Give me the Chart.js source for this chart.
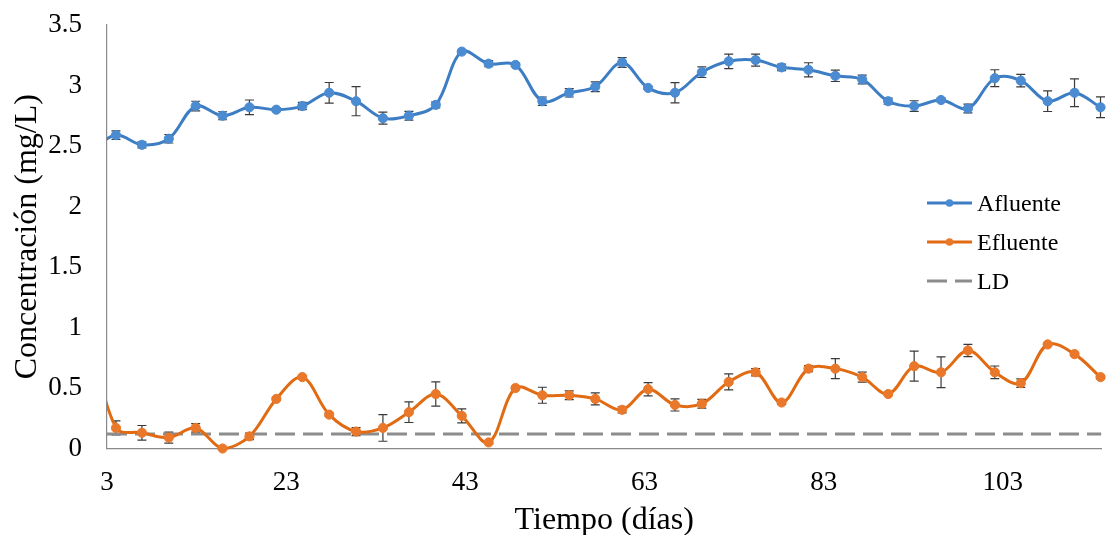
<!DOCTYPE html>
<html>
<head>
<meta charset="utf-8">
<script src="https://cdn.jsdelivr.net/npm/chart.js@4.4.1/dist/chart.umd.min.js"></script>
<style>
  html, body { margin: 0; padding: 0; background: #ffffff; }
  canvas { display: block; }
</style>
</head>
<body>
<canvas id="chart" width="1107" height="535"></canvas>
<script>
// Sampling days (first sample falls before the axis start and is clipped)
const days = [1.0, 4.0, 6.9, 9.9, 12.9, 15.9, 18.9, 21.9, 24.8, 27.8, 30.8, 33.8, 36.7, 39.7,
  42.6, 45.6, 48.6, 51.6, 54.6, 57.5, 60.5, 63.4, 66.4, 69.4, 72.4, 75.4, 78.3,
  81.3, 84.3, 87.3, 90.2, 93.1, 96.1, 99.1, 102.1, 105.0, 108.0, 111.0, 113.9];

// Influent concentration (mg/L) and its standard deviation
const afluente = [2.45, 2.59, 2.51, 2.56, 2.83, 2.75, 2.82, 2.80, 2.83, 2.94, 2.87, 2.73, 2.75, 2.84,
  3.28, 3.18, 3.17, 2.87, 2.94, 2.99, 3.19, 2.98, 2.94, 3.11, 3.20, 3.21, 3.15,
  3.13, 3.08, 3.05, 2.87, 2.83, 2.88, 2.81, 3.06, 3.04, 2.87, 2.94, 2.82];
const afluenteErr = [0, 0.035, 0.025, 0.035, 0.04, 0.033, 0.06, 0.015, 0.03, 0.085, 0.12, 0.05, 0.036, 0.025,
  0.01, 0.025, 0.01, 0.035, 0.035, 0.04, 0.04, 0.01, 0.083, 0.044, 0.06, 0.05, 0.027,
  0.058, 0.047, 0.036, 0.025, 0.044, 0.015, 0.036, 0.07, 0.052, 0.085, 0.114, 0.086];

// Effluent concentration (mg/L) and its standard deviation
const efluente = [1.0, 0.17, 0.13, 0.09, 0.17, 0.00, 0.10, 0.41, 0.59, 0.28, 0.14, 0.17, 0.30, 0.45,
  0.27, 0.05, 0.50, 0.44, 0.44, 0.41, 0.32, 0.49, 0.36, 0.37, 0.55, 0.63, 0.38,
  0.66, 0.66, 0.59, 0.45, 0.68, 0.63, 0.81, 0.63, 0.54, 0.86, 0.78, 0.59];
const efluenteErr = [0, 0.058, 0.06, 0.045, 0.035, 0.005, 0.027, 0.01, 0.01, 0.012, 0.033, 0.11, 0.085, 0.10,
  0.058, 0.01, 0.01, 0.066, 0.036, 0.05, 0.025, 0.055, 0.05, 0.036, 0.066, 0.03, 0.015,
  0.025, 0.083, 0.042, 0.01, 0.124, 0.127, 0.05, 0.052, 0.035, 0.01, 0.01, 0.01];

// Detection limit (mg/L)
const limiteDeteccion = 0.12;

// Axis ranges and tick labels
const xRange = [3, 114];
const xTicks = [3, 23, 43, 63, 83, 103];
const yTicks = [0, 0.5, 1, 1.5, 2, 2.5, 3, 3.5];

const serif = '"Liberation Serif", "Times New Roman", Times, serif';
const BLUE = '#3d7dc3';
const BLUE_PT = '#4a8bd1';
const ORANGE = '#e16b13';
const ORANGE_PT = '#ea782a';
const GREY = '#8c8c8c';

const toPoints = (ys) => days.map((d, i) => ({ x: d, y: ys[i] }));
const seriesClip = { left: 0, top: 12, right: 12, bottom: 12 };

// Vertical error bars with caps, drawn under the markers
const errorBars = {
  id: 'errorBars',
  beforeDatasetsDraw(chart) {
    const { ctx, scales: { x, y } } = chart;
    const sets = [[afluente, afluenteErr], [efluente, efluenteErr]];
    ctx.save();
    ctx.beginPath();
    ctx.rect(chart.chartArea.left, 0, chart.chartArea.right - chart.chartArea.left + 10, chart.height);
    ctx.clip();
    ctx.strokeStyle = '#3a3a3a';
    ctx.lineWidth = 1.2;
    const cap = 4.5;
    sets.forEach(([vals, errs]) => {
      vals.forEach((v, i) => {
        const e = errs[i];
        if (!e || days[i] < xRange[0]) return;
        const px = x.getPixelForValue(days[i]);
        const top = y.getPixelForValue(v + e);
        const bot = y.getPixelForValue(v - e);
        ctx.beginPath();
        ctx.moveTo(px, top); ctx.lineTo(px, bot);
        ctx.moveTo(px - cap, top); ctx.lineTo(px + cap, top);
        ctx.moveTo(px - cap, bot); ctx.lineTo(px + cap, bot);
        ctx.stroke();
      });
    });
    ctx.restore();
  }
};

// Legend placed inside the plot, to the right
const sideLegend = {
  id: 'sideLegend',
  afterDraw(chart, args, opts) {
    const { ctx } = chart;
    ctx.save();
    chart.data.datasets.forEach((ds, i) => {
      const cy = opts.y + i * opts.row;
      ctx.beginPath();
      ctx.strokeStyle = ds.borderColor;
      ctx.lineWidth = ds.borderWidth;
      ctx.setLineDash(ds.borderDash || []);
      ctx.moveTo(opts.x, cy);
      ctx.lineTo(opts.x + opts.line, cy);
      ctx.stroke();
      ctx.setLineDash([]);
      if (ds.pointRadius) {
        ctx.beginPath();
        ctx.fillStyle = ds.pointBackgroundColor;
        ctx.arc(opts.x + opts.line / 2, cy, 3.8, 0, Math.PI * 2);
        ctx.fill();
      }
      ctx.fillStyle = '#000';
      ctx.font = opts.font;
      ctx.textBaseline = 'alphabetic';
      ctx.textAlign = 'left';
      ctx.fillText(ds.label, opts.x + opts.line + opts.gap, cy + opts.baseline);
    });
    ctx.restore();
  }
};

new Chart(document.getElementById('chart'), {
  type: 'line',
  data: {
    datasets: [
      {
        label: 'Afluente',
        data: toPoints(afluente),
        borderColor: BLUE,
        borderWidth: 3,
        pointRadius: 4.6,
        pointBackgroundColor: BLUE_PT,
        pointBorderColor: BLUE_PT,
        pointBorderWidth: 1,
        tension: 0.35,
        clip: seriesClip
      },
      {
        label: 'Efluente',
        data: toPoints(efluente),
        borderColor: ORANGE,
        borderWidth: 3,
        pointRadius: 4.6,
        pointBackgroundColor: ORANGE_PT,
        pointBorderColor: ORANGE_PT,
        pointBorderWidth: 1,
        tension: 0.35,
        clip: seriesClip
      },
      {
        label: 'LD',
        data: xRange.map(d => ({ x: d, y: limiteDeteccion })),
        borderColor: GREY,
        borderWidth: 3,
        borderDash: [20, 8],
        pointRadius: 0,
        tension: 0
      }
    ]
  },
  options: {
    responsive: false,
    animation: false,
    events: [],
    layout: { padding: { top: 25, right: 5, left: 0, bottom: 0 } },
    scales: {
      x: {
        type: 'linear',
        min: xRange[0],
        max: xRange[1],
        afterBuildTicks: (axis) => { axis.ticks = xTicks.map(v => ({ value: v })); },
        afterFit: (axis) => { axis.height = 86.5; axis.paddingLeft = 0; axis.paddingRight = 0; },
        grid: { display: false, drawTicks: false },
        border: { display: true, color: '#898989', width: 1.2 },
        ticks: {
          autoSkip: false, maxRotation: 0, padding: 18, color: '#000',
          font: { family: serif, size: 27 }
        },
        title: {
          display: true, text: 'Tiempo (días)', color: '#000',
          font: { family: serif, size: 32, lineHeight: 0.875 },
          padding: { top: 0, bottom: 0 }
        }
      },
      y: {
        type: 'linear',
        min: yTicks[0],
        max: yTicks[yTicks.length - 1],
        afterBuildTicks: (axis) => { axis.ticks = yTicks.map(v => ({ value: v })); },
        afterFit: (axis) => { axis.width = 107; axis.paddingTop = 0; axis.paddingBottom = 0; },
        grid: { display: false, drawTicks: false },
        border: { display: true, color: '#898989', width: 1.2 },
        ticks: {
          padding: 25, color: '#000',
          font: { family: serif, size: 27 },
          callback: (v) => String(v)
        },
        title: {
          display: true, text: 'Concentración (mg/L)', color: '#000',
          font: { family: serif, size: 32, lineHeight: 1 },
          padding: { top: 12, bottom: 0 }
        }
      }
    },
    plugins: {
      legend: { display: false },
      tooltip: { enabled: false },
      sideLegend: {
        x: 927, y: 203, row: 39, line: 45, gap: 5, baseline: 8,
        font: '24px ' + serif
      }
    }
  },
  plugins: [errorBars, sideLegend]
});
</script>
</body>
</html>
